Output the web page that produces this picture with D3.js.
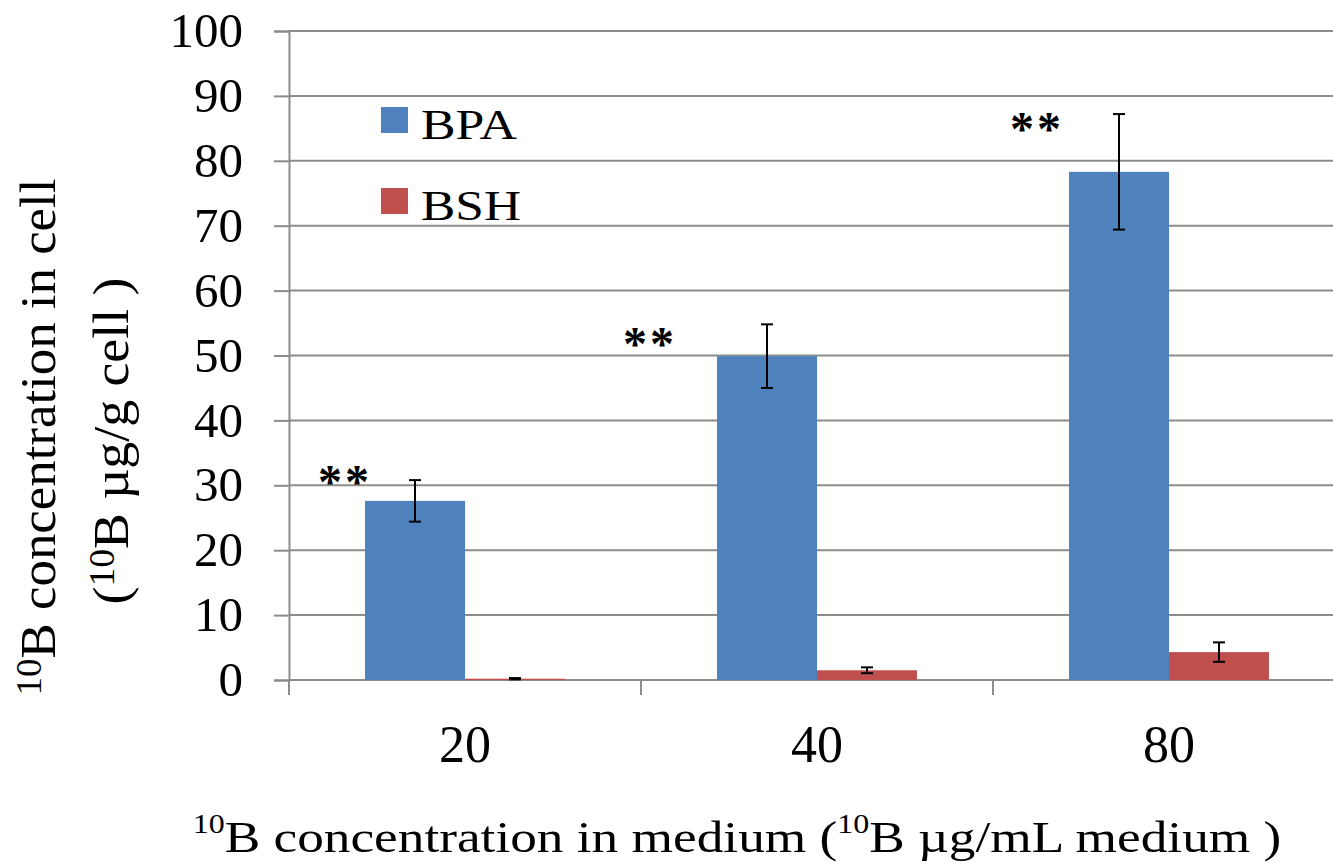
<!DOCTYPE html>
<html>
<head>
<meta charset="utf-8">
<script src="https://d3js.org/d3.v7.min.js"></script>
<style>
  body { margin: 0; background: #fff; }
  svg { display: block; }
  text { font-family: "Liberation Serif", "Times New Roman", serif; fill: #000; }
</style>
</head>
<body>
<div id="chart"></div>
<script>
// values
var categories = ["20", "40", "80"];
var seriesNames = ["BPA", "BSH"];
var bpaMean = [27.6, 49.9, 78.3];
var bpaErr = [3.2, 4.9, 8.9];
var bshMean = [0.2, 1.5, 4.3];
var bshErr = [0.1, 0.45, 1.5];
var yTicks = [0, 10, 20, 30, 40, 50, 60, 70, 80, 90, 100];
var sigLabels = ["**", "**", "**"];

var colors = { BPA: "#4F81BD", BSH: "#C0504D" };

var svgWidth = 1333;
var svgHeight = 862;
var margin = { top: 31, left: 289 };
var width = 1056;   // plot runs a little past the right edge, as in the figure
var height = 649;

var svg = d3.select("#chart")
  .append("svg")
  .attr("width", svgWidth)
  .attr("height", svgHeight);

var chartGroup = svg.append("g")
  .attr("transform", `translate(${margin.left}, ${margin.top})`);

// build the data table from the arrays
var table = categories.map(function(c, i) {
  return {
    cat: c,
    values: [
      { name: "BPA", mean: bpaMean[i], err: bpaErr[i] },
      { name: "BSH", mean: bshMean[i], err: bshErr[i] }
    ]
  };
});

// scales
var xScale = d3.scaleBand().domain(categories).range([0, width]).padding(0);
var xInner = d3.scaleBand().domain(seriesNames)
  .range([xScale.bandwidth() * 0.216, xScale.bandwidth() * 0.784]).padding(0);
var yScale = d3.scaleLinear().domain([0, 100]).range([height, 0]);

var gridColor = "#8c8c8c";

// grid lines
chartGroup.append("g").selectAll("line")
  .data(yTicks.filter(d => d > 0))
  .enter().append("line")
  .attr("x1", 0).attr("x2", width)
  .attr("y1", d => yScale(d)).attr("y2", d => yScale(d))
  .attr("stroke", gridColor).attr("stroke-width", 2);

// y axis
var leftAxis = d3.axisLeft(yScale).tickValues(yTicks).tickSize(15).tickPadding(31);
var yAxisG = chartGroup.append("g").call(leftAxis);
yAxisG.select(".domain").attr("stroke", gridColor).attr("stroke-width", 2);
yAxisG.selectAll(".tick line").attr("stroke", gridColor).attr("stroke-width", 2);
yAxisG.selectAll(".tick text")
  .attr("font-family", "Liberation Serif, Times New Roman, serif")
  .attr("font-size", 49)
  .attr("fill", "#000");

// x axis: baseline + ticks at category boundaries
chartGroup.append("line")
  .attr("x1", 0).attr("x2", width)
  .attr("y1", height).attr("y2", height)
  .attr("stroke", gridColor).attr("stroke-width", 2);
chartGroup.append("g").selectAll("line")
  .data(categories)
  .enter().append("line")
  .attr("x1", d => xScale(d)).attr("x2", d => xScale(d))
  .attr("y1", height).attr("y2", height + 15)
  .attr("stroke", gridColor).attr("stroke-width", 2);
chartGroup.append("g").selectAll("text")
  .data(categories)
  .enter().append("text")
  .attr("x", d => xScale(d) + xScale.bandwidth() / 2)
  .attr("y", height + 82)
  .attr("text-anchor", "middle")
  .attr("font-size", 52)
  .text(d => d);

// bars
var groups = chartGroup.selectAll(".cat")
  .data(table)
  .enter().append("g")
  .attr("class", "cat")
  .attr("transform", d => `translate(${xScale(d.cat)}, 0)`);

groups.selectAll("rect")
  .data(d => d.values)
  .enter().append("rect")
  .attr("x", d => xInner(d.name))
  .attr("width", xInner.bandwidth())
  .attr("y", d => yScale(d.mean))
  .attr("height", d => height - yScale(d.mean))
  .attr("fill", d => colors[d.name]);

// error bars
var errG = groups.selectAll(".err")
  .data(d => d.values)
  .enter().append("g")
  .attr("class", "err")
  .attr("stroke", "#000")
  .attr("stroke-width", 2);
var cap = 6;
errG.append("line")
  .attr("x1", d => xInner(d.name) + xInner.bandwidth() / 2)
  .attr("x2", d => xInner(d.name) + xInner.bandwidth() / 2)
  .attr("y1", d => yScale(d.mean + d.err))
  .attr("y2", d => yScale(d.mean - d.err));
errG.append("line")
  .attr("x1", d => xInner(d.name) + xInner.bandwidth() / 2 - cap)
  .attr("x2", d => xInner(d.name) + xInner.bandwidth() / 2 + cap)
  .attr("y1", d => yScale(d.mean + d.err))
  .attr("y2", d => yScale(d.mean + d.err));
errG.append("line")
  .attr("x1", d => xInner(d.name) + xInner.bandwidth() / 2 - cap)
  .attr("x2", d => xInner(d.name) + xInner.bandwidth() / 2 + cap)
  .attr("y1", d => yScale(d.mean - d.err))
  .attr("y2", d => yScale(d.mean - d.err));

// significance stars, left of each BPA bar
var sigDx = [-20, -67, -32];
var sigDy = [-10, 8, 3];
groups.append("text")
  .attr("x", (d, i) => xInner("BPA") + sigDx[i])
  .attr("y", (d, i) => yScale(bpaMean[i] + bpaErr[i]) + 28 + sigDy[i])
  .attr("text-anchor", "middle")
  .attr("font-family", "DejaVu Sans, sans-serif")
  .attr("font-weight", "bold")
  .attr("font-size", 48)
  .attr("letter-spacing", 3)
  .text((d, i) => sigLabels[i]);

// legend
var legend = chartGroup.append("g").attr("transform", "translate(92, 76)");
var legendItems = legend.selectAll("g")
  .data(seriesNames)
  .enter().append("g")
  .attr("transform", (d, i) => `translate(0, ${i * 81})`);
legendItems.append("rect")
  .attr("width", 27).attr("height", 26)
  .attr("fill", d => colors[d]);
legendItems.append("text")
  .attr("x", 40).attr("y", 32)
  .attr("font-size", 42)
  .attr("textLength", d => d === "BPA" ? 96 : 100)
  .attr("lengthAdjust", "spacingAndGlyphs")
  .text(d => d);

// text with a superscript "10"
function richText(parent, parts, size, supScale, raise) {
  var t = parent.append("text").attr("font-size", size).attr("text-anchor", "middle");
  parts.forEach(function(p) {
    if (p.sup) {
      t.append("tspan").attr("font-size", size * supScale).attr("dy", -size * raise).text(p.t);
    } else {
      t.append("tspan").attr("dy", p.after ? size * raise : 0).text(p.t);
    }
  });
  return t;
}
function fitWidth(t, target) {
  var w = t.node().getBBox().width;
  return target / w;
}

// x title
var xt = richText(svg, [
  { t: "10", sup: true }, { t: "B concentration in medium (", after: true },
  { t: "10", sup: true }, { t: "B \u00b5g/mL medium )", after: true }
], 44, 0.6, 0.43);
var sx = fitWidth(xt, 1089);
xt.attr("transform", `translate(737, 852) scale(${sx}, 1)`);

// y title (two lines)
var yt1 = richText(svg, [
  { t: "10", sup: true }, { t: "B concentration in cell", after: true }
], 50, 0.7, 0.28);
var s1 = fitWidth(yt1, 517);
yt1.attr("transform", `translate(55, 437) rotate(-90) scale(${s1}, 1)`);
var yt2 = richText(svg, [
  { t: "(" }, { t: "10", sup: true }, { t: "B \u00b5g/g cell )", after: true }
], 50, 0.7, 0.28);
var s2 = fitWidth(yt2, 327);
yt2.attr("transform", `translate(128, 441) rotate(-90) scale(${s2}, 1)`);
</script>
</body>
</html>
